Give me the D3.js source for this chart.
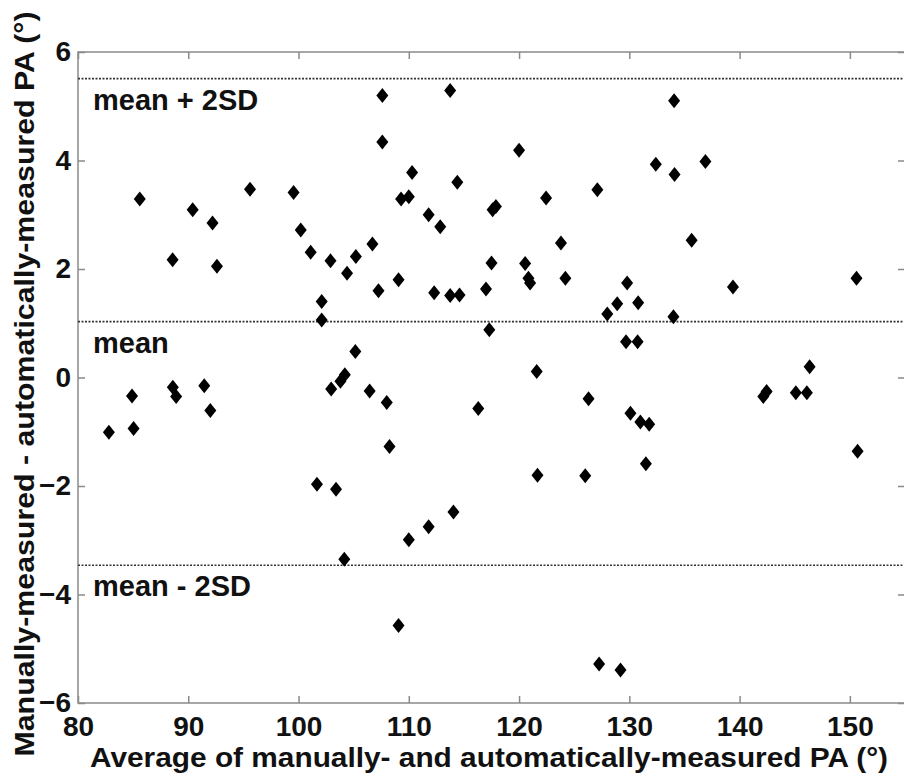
<!DOCTYPE html>
<html>
<head>
<meta charset="utf-8">
<script src="https://cdn.jsdelivr.net/npm/d3@7"></script>
<style>
  body { margin: 0; background: #fff; }
  svg text { font-family: "Liberation Sans", Arial, sans-serif; font-weight: bold; fill: #111; }
</style>
</head>
<body>
<div class="bland-altman"></div>
<script>
// average of the two methods (deg)
const avgPA = [
  82.8, 84.9, 85.04, 85.6, 88.58, 88.6, 88.9, 90.4, 91.45, 92.0,
  92.2, 92.6, 95.6, 99.55, 100.2, 101.1, 101.67, 102.1, 102.1, 102.9,
  102.96, 103.4, 103.8, 104.15, 104.2, 104.4, 105.15, 105.2, 106.45, 106.7,
  107.25, 107.6, 107.6, 108.0, 108.25, 109.07, 109.07, 109.3, 110.0, 110.0,
  110.3, 111.8, 111.8, 112.3, 112.85, 113.75, 113.75, 114.05, 114.4, 114.6,
  116.3, 117.0, 117.3, 117.5, 117.6, 117.9, 120.0, 120.55, 120.85, 121.0,
  121.6, 121.67, 122.45, 123.8, 124.2, 126.0, 126.3, 127.1, 127.26, 128.0,
  128.9, 129.2, 129.7, 129.8, 130.1, 130.75, 130.8, 131.0, 131.5, 131.8,
  132.4, 134.0, 134.06, 134.1, 135.65, 136.9, 139.4, 142.15, 142.45, 145.1,
  146.1, 146.35, 150.6, 150.7
];
// manual - automatic difference (deg)
const diffPA = [
  -1.01, -0.34, -0.94, 3.29, 2.17, -0.18, -0.35, 3.09, -0.15, -0.61,
  2.85, 2.05, 3.47, 3.41, 2.72, 2.31, -1.97, 1.40, 1.06, 2.15,
  -0.21, -2.06, -0.07, -3.35, 0.05, 1.92, 0.48, 2.23, -0.25, 2.46,
  1.60, 5.20, 4.34, -0.46, -1.27, 1.80, -4.57, 3.29, 3.33, -2.99,
  3.78, 3.00, -2.75, 1.56, 2.78, 5.29, 1.51, -2.48, 3.60, 1.52,
  -0.57, 1.63, 0.88, 2.11, 3.09, 3.15, 4.19, 2.10, 1.83, 1.74,
  0.11, -1.80, 3.31, 2.48, 1.83, -1.81, -0.39, 3.46, -5.28, 1.17,
  1.36, -5.39, 0.66, 1.74, -0.66, 0.66, 1.38, -0.82, -1.59, -0.86,
  3.93, 1.12, 5.10, 3.74, 2.53, 3.98, 1.67, -0.35, -0.26, -0.28,
  -0.28, 0.20, 1.83, -1.36
];
const refLines = [5.51, 1.03, -3.46];
const refLabels = ["mean + 2SD", "mean", "mean - 2SD"];
const xTicks = [80, 90, 100, 110, 120, 130, 140, 150];
const yTicks = [-6, -4, -2, 0, 2, 4, 6];

const W = 904, H = 780;
const m = {l: 78, r: 905, t: 52, b: 703};

const x = d3.scaleLinear().domain([80, 155]).range([m.l, m.r]);
const y = d3.scaleLinear().domain([-6, 6]).range([m.b, m.t]);

const svg = d3.select('.bland-altman').append('svg')
  .attr('width', W).attr('height', H);

// inward ticks on all four sides, matlab style
const tickCol = '#8a8a8a';
function styleAxis(g){
  g.select('.domain').remove();
  g.selectAll('.tick line').attr('stroke', tickCol).attr('stroke-width', 1.5);
  g.selectAll('.tick text').attr('font-size', '28px').attr('fill', '#111');
}

svg.append('g').attr('transform', `translate(0,${m.b})`)
  .call(d3.axisBottom(x).tickValues(xTicks).tickSizeInner(-7).tickSizeOuter(0).tickPadding(13))
  .call(styleAxis)
  .selectAll('.tick text').attr('dy', '0.71em');
svg.append('g').attr('transform', `translate(0,${m.t})`)
  .call(d3.axisTop(x).tickValues(xTicks).tickSizeInner(-7).tickSizeOuter(0).tickFormat(''))
  .call(styleAxis);
svg.append('g').attr('transform', `translate(${m.l},0)`)
  .call(d3.axisLeft(y).tickValues(yTicks).tickSizeInner(-7).tickSizeOuter(0).tickPadding(7))
  .call(styleAxis);
svg.append('g').attr('transform', `translate(${m.r},0)`)
  .call(d3.axisRight(y).tickValues(yTicks).tickSizeInner(-7).tickSizeOuter(0).tickFormat(''))
  .call(styleAxis);

svg.append('rect')
  .attr('x', m.l).attr('y', m.t)
  .attr('width', m.r - m.l).attr('height', m.b - m.t)
  .attr('fill', 'none').attr('stroke', tickCol).attr('stroke-width', 1.5);

// mean and limits of agreement
svg.append('g').selectAll('line')
  .data(refLines)
  .join('line')
  .attr('x1', m.l).attr('x2', m.r)
  .attr('y1', d => y(d)).attr('y2', d => y(d))
  .attr('stroke', '#333').attr('stroke-width', 1.6)
  .attr('stroke-dasharray', '2,1.5');

svg.append('g').selectAll('text')
  .data(refLabels)
  .join('text')
  .attr('x', 93)
  .attr('y', (d, i) => y(refLines[i]) + 31)
  .attr('font-size', '29px')
  .text(d => d);

// diamond markers
const diamond = {
  draw(ctx, size){
    const h = 7.5, w = 6;
    ctx.moveTo(0, -h); ctx.lineTo(w, 0); ctx.lineTo(0, h); ctx.lineTo(-w, 0); ctx.closePath();
  }
};
svg.append('g').selectAll('path')
  .data(avgPA.map((a, i) => ({a, d: diffPA[i]})))
  .join('path')
  .attr('transform', p => `translate(${x(p.a)},${y(p.d)})`)
  .attr('d', d3.symbol().type(diamond))
  .attr('fill', '#000');

// axis titles
svg.append('text')
  .attr('x', 489).attr('y', 767)
  .attr('text-anchor', 'middle')
  .attr('font-size', '27px')
  .attr('textLength', 798).attr('lengthAdjust', 'spacingAndGlyphs')
  .text('Average of manually- and automatically-measured PA (°)');

svg.append('text')
  .attr('transform', 'translate(34,384) rotate(-90)')
  .attr('text-anchor', 'middle')
  .attr('font-size', '27px')
  .attr('textLength', 745).attr('lengthAdjust', 'spacingAndGlyphs')
  .text('Manually-measured - automatically-measured PA (°)');
</script>
</body>
</html>
